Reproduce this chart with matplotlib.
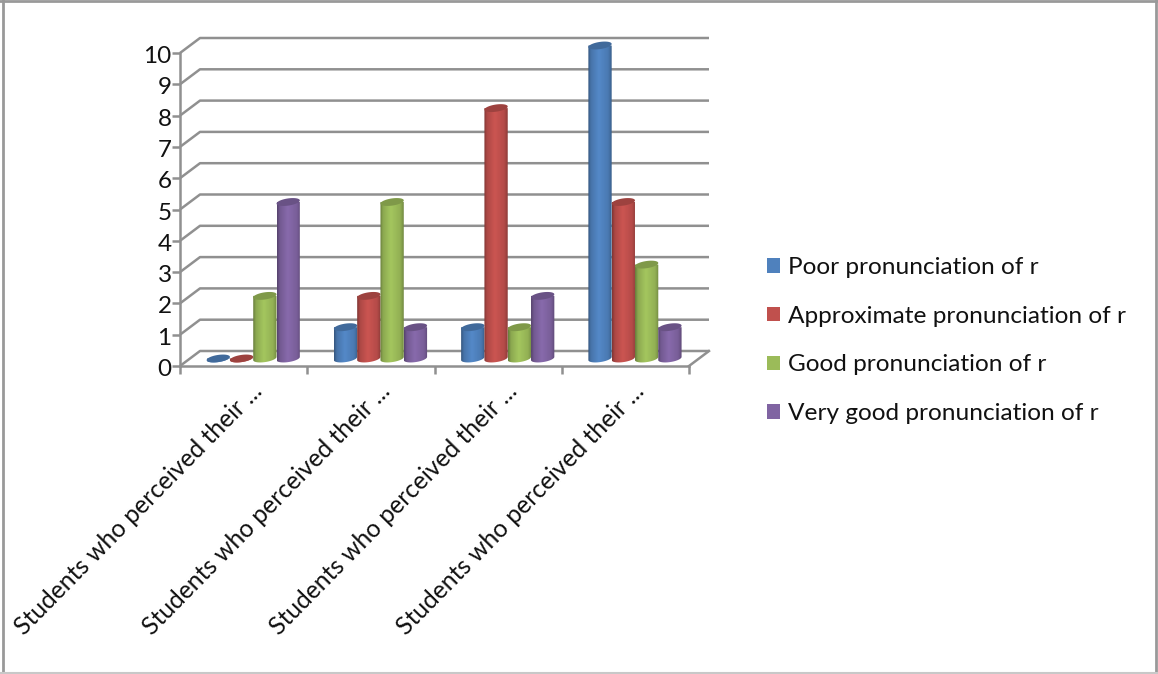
import matplotlib
matplotlib.use("Agg")
import matplotlib.pyplot as plt
from matplotlib.lines import Line2D
from matplotlib.patches import Patch, Polygon
from matplotlib.transforms import ScaledTranslation
import numpy as np

plt.rcParams['font.family'] = ['Lato', 'DejaVu Sans']

categories = ["Students who perceived their ..."] * 4
series_names = ["Poor pronunciation of r", "Approximate pronunciation of r",
                "Good pronunciation of r", "Very good pronunciation of r"]
poor = [0, 1, 1, 10]
approximate = [0, 2, 8, 5]
good = [2, 5, 1, 3]
very_good = [5, 1, 2, 1]
series = [poor, approximate, good, very_good]
colors = ["#4f81bd", "#c0504d", "#9bbb59", "#8064a2"]
y_ticks = list(range(11))

W, H = 1158, 674
fig = plt.figure(figsize=(W / 100, H / 100), dpi=100, facecolor="white")

# front plane of the 3d box, in pixels
left, right, top, bottom = 180, 689, 53, 366
ax = fig.add_axes([left / W, 1 - bottom / H, (right - left) / W, (bottom - top) / H])
ax.set_xlim(0, 4)
ax.set_ylim(0, 10)
ax.set_autoscale_on(False)
ax.patch.set_alpha(0)

px = 4 / (right - left)
py = 10 / (bottom - top)
depth_x, depth_y = 20 * px, 15 * py
grid_color = "#909090"

for s in ["top", "right"]:
    ax.spines[s].set_visible(False)
for s in ["left", "bottom"]:
    ax.spines[s].set_color(grid_color)
    ax.spines[s].set_linewidth(1.8)

ax.set_yticks(y_ticks)
ax.set_xticks(range(5))
ax.set_xticklabels([])
ax.tick_params(axis="both", color=grid_color, width=1.8, length=5.5)
ax.tick_params(axis="y", labelsize=17.5, pad=0.5, labelcolor="#111111")
nudge = ScaledTranslation(0, -1.5 / 100, fig.dpi_scale_trans)
for lab in ax.get_yticklabels():
    lab.set_transform(lab.get_transform() + nudge)

# gridlines run back along the side wall then across the back wall
for v in y_ticks:
    ax.plot([0, depth_x, 4 + depth_x], [v, v + depth_y, v + depth_y],
            color=grid_color, lw=1.8, clip_on=False, zorder=1, solid_capstyle="butt")
ax.plot([4, 4 + depth_x], [0, depth_y], color=grid_color, lw=1.8, clip_on=False, zorder=1)


def shade(hex_color):
    base = np.array(matplotlib.colors.to_rgb(hex_color))
    t = np.linspace(0, 1, 40)
    k = np.interp(t, [0, 0.12, 0.45, 0.85, 1], [0.68, 0.9, 1.06, 0.94, 0.74])
    return np.clip(base[None, None, :] * k[None, :, None], 0, 1)


def cylinder(xc, value, color, width, z):
    # tilted ellipses give the slight perspective of the caps
    a = width / 2
    b, tilt = 3.6 * py, 1.6 * py
    base = depth_y / 2
    t = np.linspace(0, 2 * np.pi, 80)
    ex = a * np.cos(t)
    ey = b * np.sin(t) + tilt * np.cos(t)
    low = t >= np.pi
    order = np.argsort(ex[low])
    body_x = np.r_[xc - a, ex[low][order] + xc, xc + a]
    body_y = np.r_[value + base, ey[low][order] + base, value + base]
    body = Polygon(np.c_[body_x, body_y], closed=True, fc="none", ec="none",
                   transform=ax.transData, clip_on=False)
    ax.add_patch(body)
    im = ax.imshow(shade(color), extent=[xc - a, xc + a, base - b * 2, value + base + b * 2],
                   aspect="auto", zorder=z, interpolation="bilinear")
    im.set_clip_box(fig.bbox)
    im.set_clip_path(body)
    cap_color = np.array(matplotlib.colors.to_rgb(color)) * 0.82
    ax.add_patch(Polygon(np.c_[xc + ex, value + base + ey], closed=True, fc=cap_color,
                         ec="none", zorder=z + 0.5, clip_on=False))


bar_w = 23.3 * px
for j, (vals, col) in enumerate(zip(series, colors)):
    for i, v in enumerate(vals):
        xc = i + 0.5 + 9.6 * px + (j - 1.5) * bar_w
        cylinder(xc, v, col, bar_w, 3 + j)

for i, label in enumerate(categories):
    ax.annotate(label, xy=(i + 0.5, 0), xytext=(15, -21), textcoords="offset pixels",
                rotation=45.5, rotation_mode="anchor", ha="right", va="center",
                fontsize=17.7, color="#111111", annotation_clip=False)

handles = [Patch(fc=c, ec="none") for c in colors]
fig.legend(handles, series_names, loc="upper left", bbox_to_anchor=(767 / W, 1 - 257 / H),
           frameon=False, fontsize=17.6, handlelength=0.53, handleheight=0.53,
           handletextpad=0.33, labelspacing=1.133, borderaxespad=0, borderpad=0,
           labelcolor="#111111")

# outer chart frame
frame = "#999999"
fig.add_artist(Line2D([3 / W, 3 / W], [0, 1], color=frame, lw=2))
fig.add_artist(Line2D([0, 1], [1 - 1 / H, 1 - 1 / H], color=frame, lw=2))
fig.add_artist(Line2D([1156 / W, 1156 / W], [0, 1], color=frame, lw=2))
fig.add_artist(Line2D([0, 1], [1 - 673 / H, 1 - 673 / H], color="#c8c8c8", lw=1.5))

fig.savefig("out.png", dpi=100)
